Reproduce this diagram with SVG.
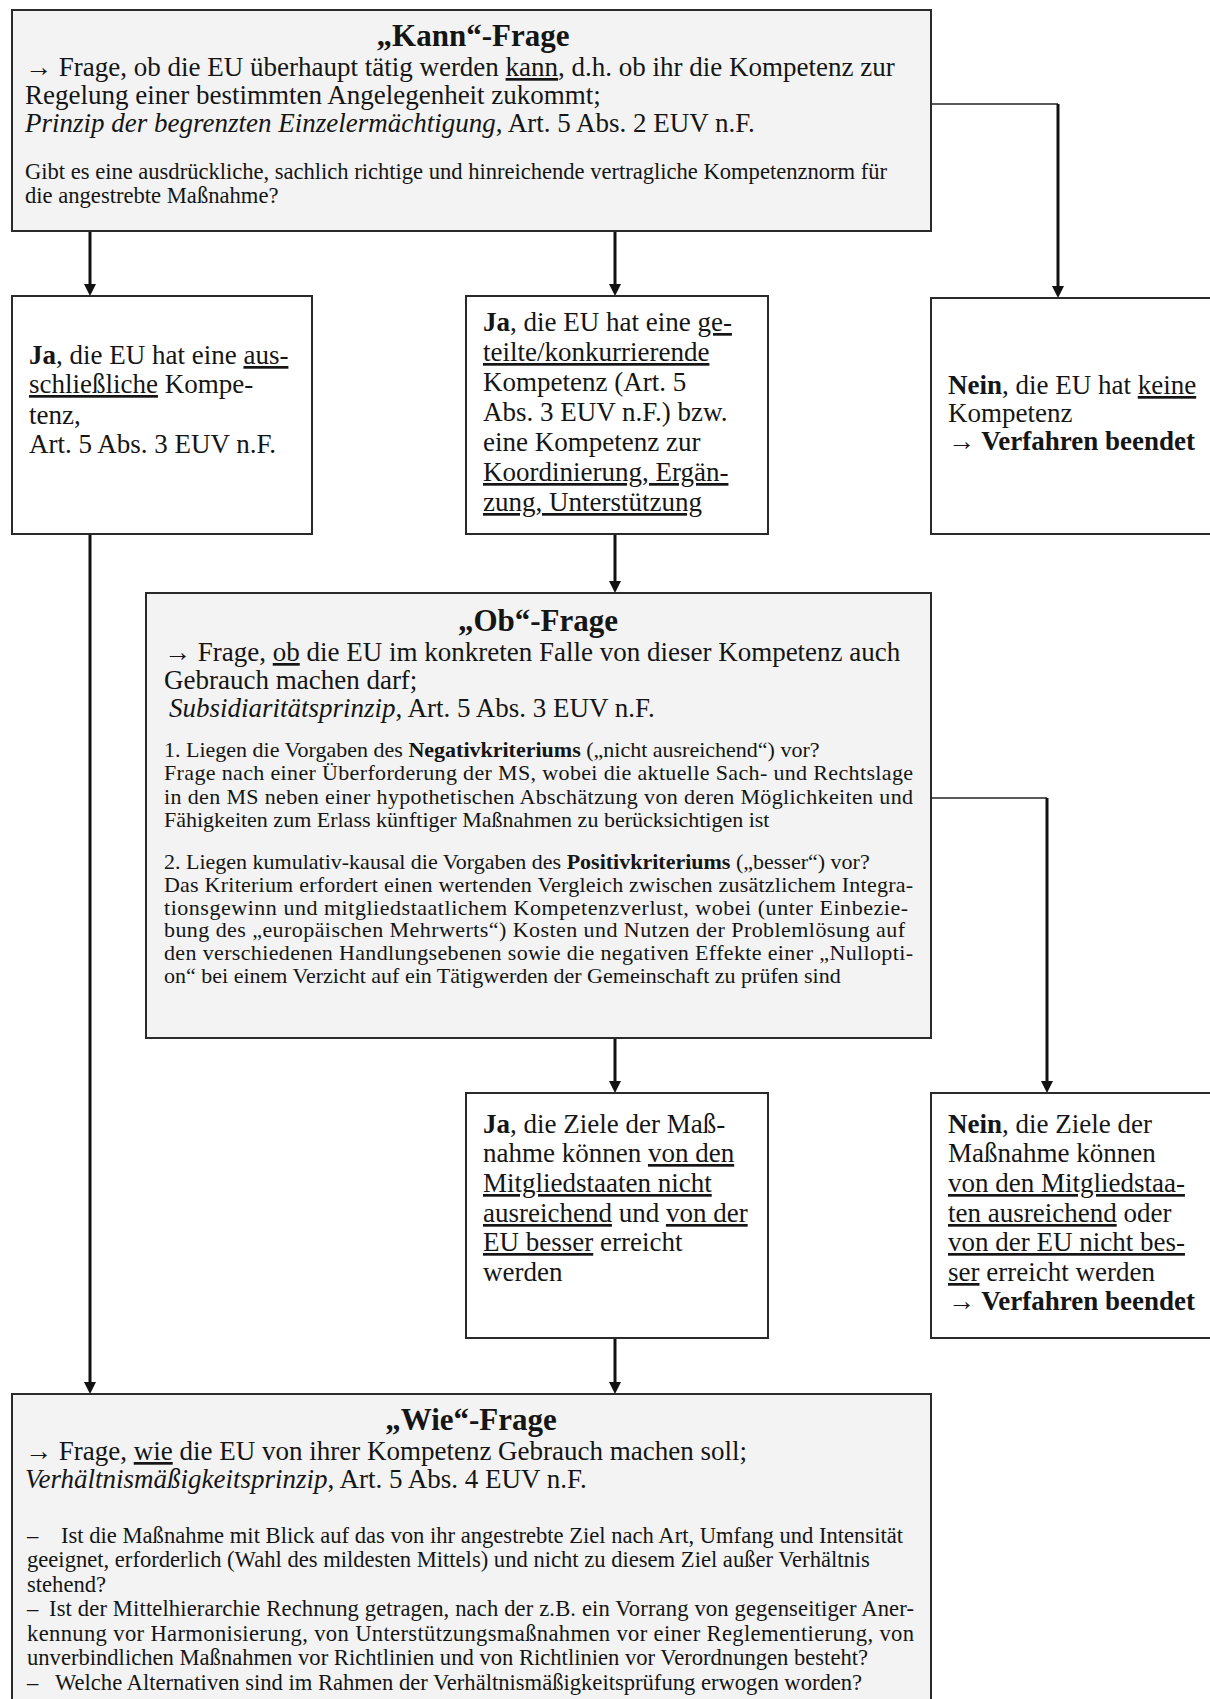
<svg xmlns="http://www.w3.org/2000/svg" width="1210" height="1699" viewBox="0 0 1210 1699">
<defs>
<marker id="ah" viewBox="0 0 12 12" refX="4" refY="6" markerWidth="12" markerHeight="12" markerUnits="userSpaceOnUse" orient="auto">
<path d="M0,0 L12,6 L0,12 z" fill="#111"/>
</marker>
<style>
text{font-family:"Liberation Serif","Times New Roman",serif;fill:#151515}
.t{font-size:31px;font-weight:bold;text-anchor:middle}
.b{font-size:27px}
.s{font-size:22px}
.s2{font-size:22.6px}
.bd{font-weight:bold}
.it{font-style:italic}
.u{text-decoration:underline;text-decoration-thickness:2px}
.grey{fill:#f2f3f2;stroke:#2a2a2a;stroke-width:2}
.white{fill:#ffffff;stroke:#2a2a2a;stroke-width:2}
.v{stroke:#111;stroke-width:3;fill:none}
.h{stroke:#222;stroke-width:1.6;fill:none}
</style>
</defs>
<rect width="1210" height="1699" fill="#ffffff"/>

<g id="connectors">
<line class="v" x1="90" y1="231" x2="90" y2="288" marker-end="url(#ah)"/>
<line class="v" x1="615" y1="231" x2="615" y2="288" marker-end="url(#ah)"/>
<polyline class="h" points="931,104 1058,104"/>
<line class="v" x1="1058" y1="104" x2="1058" y2="290" marker-end="url(#ah)"/>
<line class="v" x1="615" y1="534" x2="615" y2="585" marker-end="url(#ah)"/>
<polyline class="h" points="931,798 1047,798"/>
<line class="v" x1="1047" y1="798" x2="1047" y2="1085" marker-end="url(#ah)"/>
<line class="v" x1="615" y1="1038" x2="615" y2="1085" marker-end="url(#ah)"/>
<line class="v" x1="90" y1="534" x2="90" y2="1386" marker-end="url(#ah)"/>
<line class="v" x1="615" y1="1338" x2="615" y2="1386" marker-end="url(#ah)"/>
</g>

<g id="kann">
<rect class="grey" x="12" y="10" width="919" height="221"/>
<text class="t" x="473" y="46">„Kann“-Frage</text>
<text class="b" x="25" y="76">→ Frage, ob die EU überhaupt tätig werden <tspan class="u">kann</tspan>, d.h. ob ihr die Kompetenz zur</text>
<text class="b" x="25" y="104">Regelung einer bestimmten Angelegenheit zukommt;</text>
<text class="b" x="25" y="132"><tspan class="it">Prinzip der begrenzten Einzelermächtigung</tspan>, Art. 5 Abs. 2 EUV n.F.</text>
<text class="s2" x="25" y="179" textLength="862" lengthAdjust="spacing">Gibt es eine ausdrückliche, sachlich richtige und hinreichende vertragliche Kompetenznorm für</text>
<text class="s2" x="25" y="203">die angestrebte Maßnahme?</text>
</g>

<g id="ja-ausschliesslich">
<rect class="white" x="12" y="296" width="300" height="238"/>
<text class="b" x="29" y="364"><tspan class="bd">Ja</tspan>, die EU hat eine <tspan class="u">aus-</tspan></text>
<text class="b" x="29" y="393"><tspan class="u">schließliche</tspan> Kompe-</text>
<text class="b" x="29" y="424">tenz,</text>
<text class="b" x="29" y="453">Art. 5 Abs. 3 EUV n.F.</text>
</g>

<g id="ja-geteilt">
<rect class="white" x="466" y="296" width="302" height="238"/>
<text class="b" x="483" y="331"><tspan class="bd">Ja</tspan>, die EU hat eine <tspan class="u">ge-</tspan></text>
<text class="b" x="483" y="361"><tspan class="u">teilte/konkurrierende</tspan></text>
<text class="b" x="483" y="391">Kompetenz (Art. 5</text>
<text class="b" x="483" y="421">Abs. 3 EUV n.F.) bzw.</text>
<text class="b" x="483" y="451">eine Kompetenz zur</text>
<text class="b" x="483" y="481"><tspan class="u">Koordinierung, Ergän-</tspan></text>
<text class="b" x="483" y="511"><tspan class="u">zung, Unterstützung</tspan></text>
</g>

<g id="nein-keine">
<rect class="white" x="931" y="298" width="290" height="236"/>
<text class="b" x="948" y="394"><tspan class="bd">Nein</tspan>, die EU hat <tspan class="u">keine</tspan></text>
<text class="b" x="948" y="422">Kompetenz</text>
<text class="b bd" x="948" y="450">→ Verfahren beendet</text>
</g>

<g id="ob">
<rect class="grey" x="146" y="593" width="785" height="445"/>
<text class="t" x="538" y="631">„Ob“-Frage</text>
<text class="b" x="164" y="661">→ Frage, <tspan class="u">ob</tspan> die EU im konkreten Falle von dieser Kompetenz auch</text>
<text class="b" x="164" y="689">Gebrauch machen darf;</text>
<text class="b" x="169" y="717"><tspan class="it">Subsidiaritätsprinzip</tspan>, Art. 5 Abs. 3 EUV n.F.</text>
<text class="s" x="164" y="757">1. Liegen die Vorgaben des <tspan class="bd">Negativkriteriums</tspan> („nicht ausreichend“) vor?</text>
<text class="s" x="164" y="780" textLength="749" lengthAdjust="spacing">Frage nach einer Überforderung der MS, wobei die aktuelle Sach- und Rechtslage</text>
<text class="s" x="164" y="804" textLength="749" lengthAdjust="spacing">in den MS neben einer hypothetischen Abschätzung von deren Möglichkeiten und</text>
<text class="s" x="164" y="827">Fähigkeiten zum Erlass künftiger Maßnahmen zu berücksichtigen ist</text>
<text class="s" x="164" y="869">2. Liegen kumulativ-kausal die Vorgaben des <tspan class="bd">Positivkriteriums</tspan> („besser“) vor?</text>
<text class="s" x="164" y="892" textLength="749" lengthAdjust="spacing">Das Kriterium erfordert einen wertenden Vergleich zwischen zusätzlichem Integra-</text>
<text class="s" x="164" y="915" textLength="744" lengthAdjust="spacing">tionsgewinn und mitgliedstaatlichem Kompetenzverlust, wobei (unter Einbezie-</text>
<text class="s" x="164" y="937" textLength="741" lengthAdjust="spacing">bung des „europäischen Mehrwerts“) Kosten und Nutzen der Problemlösung auf</text>
<text class="s" x="164" y="960" textLength="749" lengthAdjust="spacing">den verschiedenen Handlungsebenen sowie die negativen Effekte einer „Nullopti-</text>
<text class="s" x="164" y="983">on“ bei einem Verzicht auf ein Tätigwerden der Gemeinschaft zu prüfen sind</text>
</g>

<g id="ja-subsidiaritaet">
<rect class="white" x="466" y="1093" width="302" height="245"/>
<text class="b" x="483" y="1133"><tspan class="bd">Ja</tspan>, die Ziele der Maß-</text>
<text class="b" x="483" y="1162">nahme können <tspan class="u">von den</tspan></text>
<text class="b" x="483" y="1192"><tspan class="u">Mitgliedstaaten nicht</tspan></text>
<text class="b" x="483" y="1222"><tspan class="u">ausreichend</tspan> und <tspan class="u">von der</tspan></text>
<text class="b" x="483" y="1251"><tspan class="u">EU besser</tspan> erreicht</text>
<text class="b" x="483" y="1281">werden</text>
</g>

<g id="nein-subsidiaritaet">
<rect class="white" x="931" y="1093" width="290" height="245"/>
<text class="b" x="948" y="1133"><tspan class="bd">Nein</tspan>, die Ziele der</text>
<text class="b" x="948" y="1162">Maßnahme können</text>
<text class="b" x="948" y="1192"><tspan class="u">von den Mitgliedstaa-</tspan></text>
<text class="b" x="948" y="1222"><tspan class="u">ten ausreichend</tspan> oder</text>
<text class="b" x="948" y="1251"><tspan class="u">von der EU nicht bes-</tspan></text>
<text class="b" x="948" y="1281"><tspan class="u">ser</tspan> erreicht werden</text>
<text class="b bd" x="948" y="1310">→ Verfahren beendet</text>
</g>

<g id="wie">
<rect class="grey" x="12" y="1394" width="919" height="320"/>
<text class="t" x="471" y="1430">„Wie“-Frage</text>
<text class="b" x="25" y="1460">→ Frage, <tspan class="u">wie</tspan> die EU von ihrer Kompetenz Gebrauch machen soll;</text>
<text class="b" x="25" y="1488"><tspan class="it">Verhältnismäßigkeitsprinzip</tspan>, Art. 5 Abs. 4 EUV n.F.</text>
<text class="s2" x="27" y="1543">–</text>
<text class="s2" x="61" y="1543">Ist die Maßnahme mit Blick auf das von ihr angestrebte Ziel nach Art, Umfang und Intensität</text>
<text class="s2" x="27" y="1567">geeignet, erforderlich (Wahl des mildesten Mittels) und nicht zu diesem Ziel außer Verhältnis</text>
<text class="s2" x="27" y="1592">stehend?</text>
<text class="s2" x="27" y="1616">–</text>
<text class="s2" x="49" y="1616" textLength="865" lengthAdjust="spacing">Ist der Mittelhierarchie Rechnung getragen, nach der z.B. ein Vorrang von gegenseitiger Aner-</text>
<text class="s2" x="27" y="1641" textLength="887" lengthAdjust="spacing">kennung vor Harmonisierung, von Unterstützungsmaßnahmen vor einer Reglementierung, von</text>
<text class="s2" x="27" y="1665">unverbindlichen Maßnahmen vor Richtlinien und von Richtlinien vor Verordnungen besteht?</text>
<text class="s2" x="27" y="1690">–</text>
<text class="s2" x="55" y="1690">Welche Alternativen sind im Rahmen der Verhältnismäßigkeitsprüfung erwogen worden?</text>
</g>
</svg>
